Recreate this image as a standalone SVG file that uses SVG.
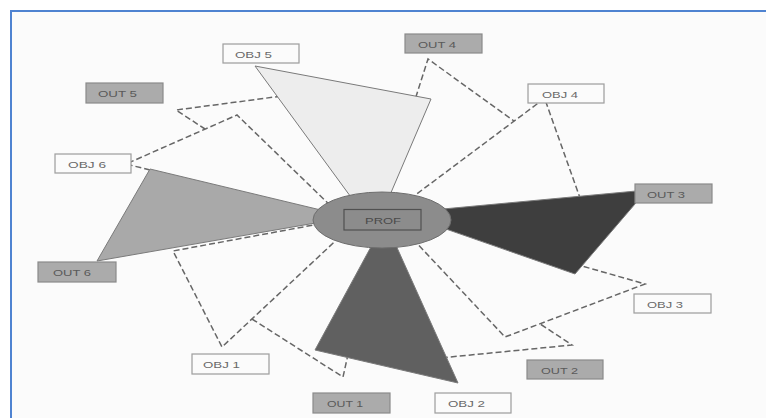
<svg xmlns="http://www.w3.org/2000/svg" width="766" height="418" viewBox="0 0 766 418">
<defs>
<style>
.dash{fill:none;stroke:#666666;stroke-width:1.5;stroke-dasharray:6 3;stroke-linejoin:miter}
.wedge{stroke:#7a7a7a;stroke-width:1}
.obj{fill:#fbfbfb;stroke:#9c9c9c;stroke-width:1.2}
.out{fill:#ababab;stroke:#8a8a8a;stroke-width:1.2}
.lbl{font-family:"Liberation Sans",Arial,sans-serif;font-size:9.5px;fill:#6a6a6a}
.olbl{font-family:"Liberation Sans",Arial,sans-serif;font-size:9.5px;fill:#5a5a5a}
</style>
</defs>
<rect x="0" y="0" width="766" height="418" fill="#ffffff"/>
<rect x="11" y="11" width="755" height="407" fill="#fbfbfb"/>
<line x1="10" y1="11" x2="766" y2="11" stroke="#4f83d1" stroke-width="2"/>
<line x1="11" y1="10" x2="11" y2="418" stroke="#4f83d1" stroke-width="2"/>

<g id="connectors">
  <polyline class="dash" points="290,95 176,110 205,129"/>
  <polyline class="dash" points="150,170 126,164 237,115 336,211"/>
  <polyline class="dash" points="413,106 428,59 514,121"/>
  <polyline class="dash" points="410,199 544.6,98.3 580,198"/>
  <polyline class="dash" points="575,264 645,284 505,337 410,236"/>
  <polyline class="dash" points="541,324.5 572,345 440,358"/>
  <polyline class="dash" points="252,319 343,377 349,350"/>
  <polyline class="dash" points="330,222 173,251 222,347 345,232"/>
  <polygon class="wedge" fill="#ededed" points="255,66 431,99 375,230"/>
  <polygon class="wedge" fill="#3e3e3e" points="647,190 575,274 400,213"/>
  <polygon class="wedge" fill="#606060" points="315,350 458,383 385,221"/>
  <polygon class="wedge" fill="#a9a9a9" points="150,169 97,261 350,217"/>
</g>

<g id="obj5"><rect class="obj" x="223" y="44" width="76" height="19"/><text class="lbl" x="235" y="57.5" textLength="37" lengthAdjust="spacingAndGlyphs">OBJ 5</text></g>
<g id="out4"><rect class="out" x="405" y="34" width="77" height="19"/><text class="olbl" x="418" y="47.5" textLength="38" lengthAdjust="spacingAndGlyphs">OUT 4</text></g>
<g id="out5"><rect class="out" x="86" y="83" width="77" height="20"/><text class="olbl" x="98" y="97" textLength="39" lengthAdjust="spacingAndGlyphs">OUT 5</text></g>
<g id="obj4"><rect class="obj" x="528" y="84" width="76" height="19"/><text class="lbl" x="542" y="97.5" textLength="36" lengthAdjust="spacingAndGlyphs">OBJ 4</text></g>
<g id="obj6"><rect class="obj" x="55" y="154" width="76" height="19"/><text class="lbl" x="68" y="167.5" textLength="38" lengthAdjust="spacingAndGlyphs">OBJ 6</text></g>
<g id="out3"><rect class="out" x="635" y="184" width="77" height="19"/><text class="olbl" x="647" y="197.5" textLength="38" lengthAdjust="spacingAndGlyphs">OUT 3</text></g>
<g id="out6"><rect class="out" x="38" y="262" width="78" height="20"/><text class="olbl" x="53" y="276" textLength="38" lengthAdjust="spacingAndGlyphs">OUT 6</text></g>
<g id="obj3"><rect class="obj" x="634" y="294" width="77" height="19"/><text class="lbl" x="647" y="307.5" textLength="36" lengthAdjust="spacingAndGlyphs">OBJ 3</text></g>
<g id="obj1"><rect class="obj" x="192" y="354" width="77" height="20"/><text class="lbl" x="203" y="368" textLength="37" lengthAdjust="spacingAndGlyphs">OBJ 1</text></g>
<g id="out2"><rect class="out" x="527" y="360" width="76" height="19"/><text class="olbl" x="541" y="373.5" textLength="37" lengthAdjust="spacingAndGlyphs">OUT 2</text></g>
<g id="out1"><rect class="out" x="313" y="393" width="77" height="20"/><text class="olbl" x="327" y="407" textLength="36" lengthAdjust="spacingAndGlyphs">OUT 1</text></g>
<g id="obj2"><rect class="obj" x="435" y="393" width="76" height="20"/><text class="lbl" x="448" y="407" textLength="37" lengthAdjust="spacingAndGlyphs">OBJ 2</text></g>

<g id="prof">
  <ellipse cx="382" cy="220" rx="69" ry="28" fill="#8c8c8c" stroke="#6e6e6e" stroke-width="1"/>
  <rect x="344" y="209.5" width="77" height="20.5" fill="none" stroke="#505050" stroke-width="1.2"/>
  <text x="365" y="223.5" textLength="36" lengthAdjust="spacingAndGlyphs" font-family="Liberation Sans, Arial, sans-serif" font-size="9.5" fill="#4a4a4a">PROF</text>
</g>
</svg>
